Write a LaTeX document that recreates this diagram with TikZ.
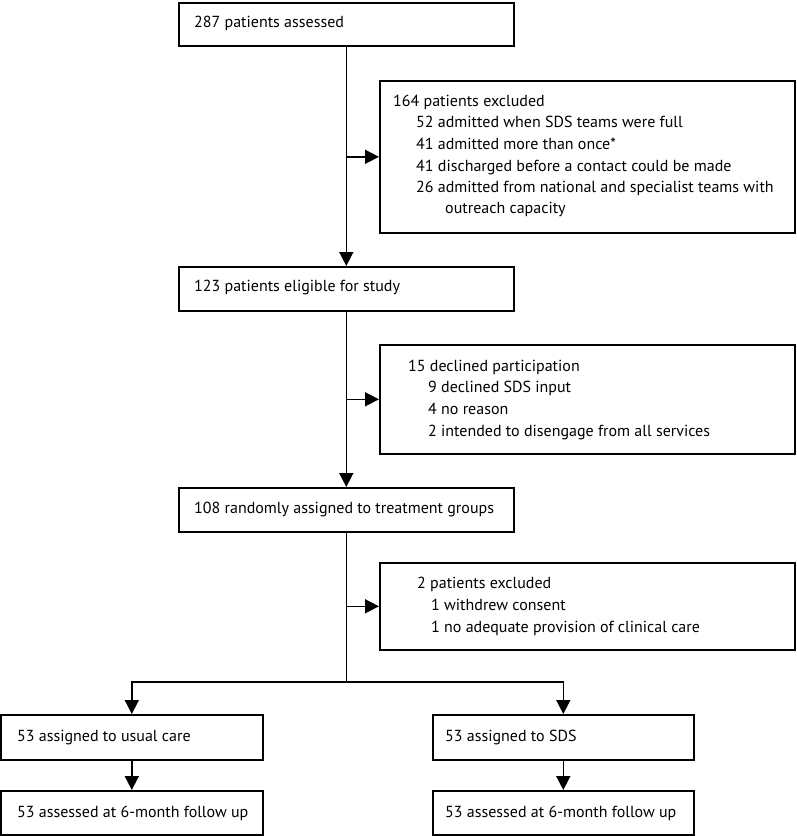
\documentclass[tikz,border=0pt]{standalone}
\usepackage{fontspec}
\setmainfont{PT Sans}
\usetikzlibrary{arrows.meta}
\begin{document}
\begin{tikzpicture}[x=1pt,y=-1pt,
  box/.style={draw, line width=1.6pt, inner sep=0pt, anchor=north west},
  txt/.style={anchor=west, inner sep=0pt, font=\fontsize{16}{19}\selectfont, text height=11.5pt, text depth=3.5pt},
  arr/.style={line width=1.6pt, -{Triangle[width=14pt,length=14pt]}},
  ln/.style={line width=1.6pt}]
\useasboundingbox (0,0) rectangle (796,836);
% main column
\node[box, minimum width=335pt, minimum height=43pt] (b1) at (178,2) {};
\node[txt] (t1) at (194,23) {287 patients assessed};
\node[box, minimum width=335pt, minimum height=44pt] (b2) at (178,266) {};
\node[txt] (t2) at (194,287) {123 patients eligible for study};
\node[box, minimum width=335pt, minimum height=44pt] (b3) at (178,487) {};
\node[txt] (t3) at (194,509) {108 randomly assigned to treatment groups};
% exclusion boxes
\node[box, minimum width=415pt, minimum height=152pt] (e1) at (379,80) {};
\node[txt] (e1a) at (393,102) {164 patients excluded};
\node[txt] (e1b) at (416,123) {52 admitted when SDS teams were full};
\node[txt] (e1c) at (416,145) {41 admitted more than once*};
\node[txt] (e1d) at (416,167) {41 discharged before a contact could be made};
\node[txt] (e1e) at (416,188) {26 admitted from national and specialist teams with};
\node[txt] (e1f) at (445,209) {outreach capacity};
\node[box, minimum width=415pt, minimum height=109pt] (e2) at (379,344) {};
\node[txt] (e2a) at (408,367) {15 declined participation};
\node[txt] (e2b) at (428,388) {9 declined SDS input};
\node[txt] (e2c) at (428,410) {4 no reason};
\node[txt] (e2d) at (428,432) {2 intended to disengage from all services};
\node[box, minimum width=415pt, minimum height=87pt] (e3) at (379,562) {};
\node[txt] (e3a) at (417,584) {2 patients excluded};
\node[txt] (e3b) at (431,606) {1 withdrew consent};
\node[txt] (e3c) at (431,628) {1 no adequate provision of clinical care};
% arms
\node[box, minimum width=262pt, minimum height=45pt] (l1) at (0,714) {};
\node[txt] (tl1) at (17,737) {53 assigned to usual care};
\node[box, minimum width=262pt, minimum height=44pt] (l2) at (0,790) {};
\node[txt] (tl2) at (17,813) {53 assessed at 6-month follow up};
\node[box, minimum width=261pt, minimum height=45pt] (r1) at (432,714) {};
\node[txt] (tr1) at (445,737) {53 assigned to SDS};
\node[box, minimum width=261pt, minimum height=44pt] (r2) at (432,790) {};
\node[txt] (tr2) at (445,813) {53 assessed at 6-month follow up};
% connectors
\draw[arr] (b1.south) -- (b2.north);
\draw[arr] (b2.south) -- (b3.north);
\draw[arr] (e1.west -| b1.south) -- (e1.west);
\draw[arr] (e2.west -| b1.south) -- (e2.west);
\coordinate (br) at (b3.south |- 0,682);
\draw[ln] (b3.south) -- (br);
\draw[arr] (e3.west -| b3.south) -- (e3.west);
\draw[arr] (br) -| (l1.north);
\draw[arr] (br) -| (r1.north);
\draw[arr] (l1.south) -- (l2.north);
\draw[arr] (r1.south) -- (r2.north);
\end{tikzpicture}
\end{document}
